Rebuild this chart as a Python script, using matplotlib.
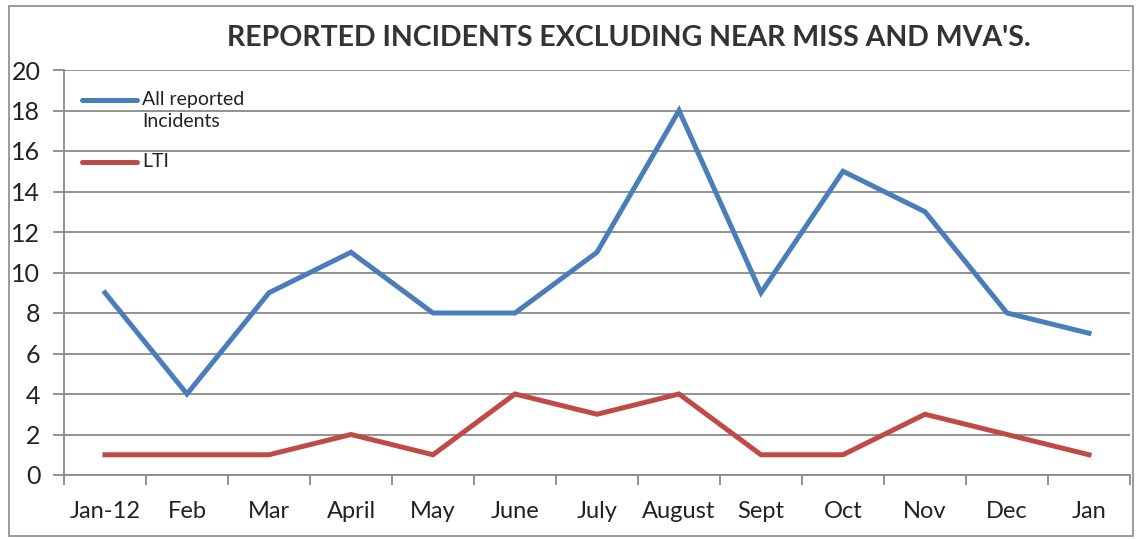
import matplotlib
matplotlib.use("Agg")
import matplotlib.pyplot as plt
from matplotlib.patches import Rectangle
from matplotlib.lines import Line2D

months = ["Jan-12", "Feb", "Mar", "April", "May", "June", "July",
          "August", "Sept", "Oct", "Nov", "Dec", "Jan"]
all_incidents = [9, 4, 9, 11, 8, 8, 11, 18, 9, 15, 13, 8, 7]
lti = [1, 1, 1, 2, 1, 4, 3, 4, 1, 1, 3, 2, 1]
y_ticks = list(range(0, 21, 2))
series_names = ["All reported\nIncidents", "LTI"]

plt.rcParams["font.family"] = ["Lato", "DejaVu Sans"]

W, H = 1138, 539
fig = plt.figure(figsize=(W / 100, H / 100), dpi=100)
fig.patch.set_facecolor("white")


def fx(px):
    return px / W


def fy(py):
    return 1 - py / H


# outer chart border
fig.patches.append(Rectangle((fx(9), fy(536)), (1133 - 9) / W, (536 - 6) / H,
                             transform=fig.transFigure, fill=False,
                             edgecolor="#8a8a8a", linewidth=1.2))

left, right, top, bottom = 64, 1130, 70, 475
ax = fig.add_axes([fx(left), fy(bottom), (right - left) / W, (bottom - top) / H])

x = list(range(len(months)))
blue = "#4A7EBB"
red = "#BE4B48"
lw = 3.6
ax.plot(x, all_incidents, color=blue, linewidth=lw, solid_joinstyle="miter", zorder=3)
ax.plot(x, lti, color=red, linewidth=lw, solid_joinstyle="miter", zorder=3)

ax.set_xlim(-0.5, len(months) - 0.5)
ax.set_ylim(0, 20)
ax.set_yticks(y_ticks)
ax.set_yticklabels([str(v) for v in y_ticks], fontsize=18, color="#222222")
ax.set_xticks(x)
ax.set_xticklabels(months, fontsize=17, color="#222222")
ax.tick_params(axis="x", length=0, pad=19)
ax.set_xticks([i - 0.5 for i in range(len(months) + 1)], minor=True)
ax.tick_params(axis="x", which="minor", length=7, width=1.3, color="#8a8a8a", direction="out")
ax.tick_params(axis="y", length=8, width=1.3, color="#8a8a8a", direction="out", pad=9)

ax.grid(axis="y", color="#7f7f7f", linewidth=1.2)
ax.set_axisbelow(True)
for side in ["top", "right"]:
    ax.spines[side].set_visible(False)
for side in ["left", "bottom"]:
    ax.spines[side].set_color("#8a8a8a")
    ax.spines[side].set_linewidth(1.3)

fig.text(fx(629), fy(38), "REPORTED INCIDENTS EXCLUDING NEAR MISS AND MVA'S.",
         ha="center", va="center", fontsize=20.5, fontweight="bold", color="#333333")

# legend drawn in figure space
for (ly, name, color) in [(100, series_names[0], blue), (162, series_names[1], red)]:
    fig.add_artist(Line2D([fx(82), fx(137)], [fy(ly), fy(ly)], transform=fig.transFigure,
                          color=color, linewidth=lw, solid_capstyle="round"))
    fig.text(fx(142), fy(ly - 9), name, ha="left", va="top", fontsize=14,
             color="#222222", linespacing=1.35)

fig.savefig("out.png", dpi=100)
